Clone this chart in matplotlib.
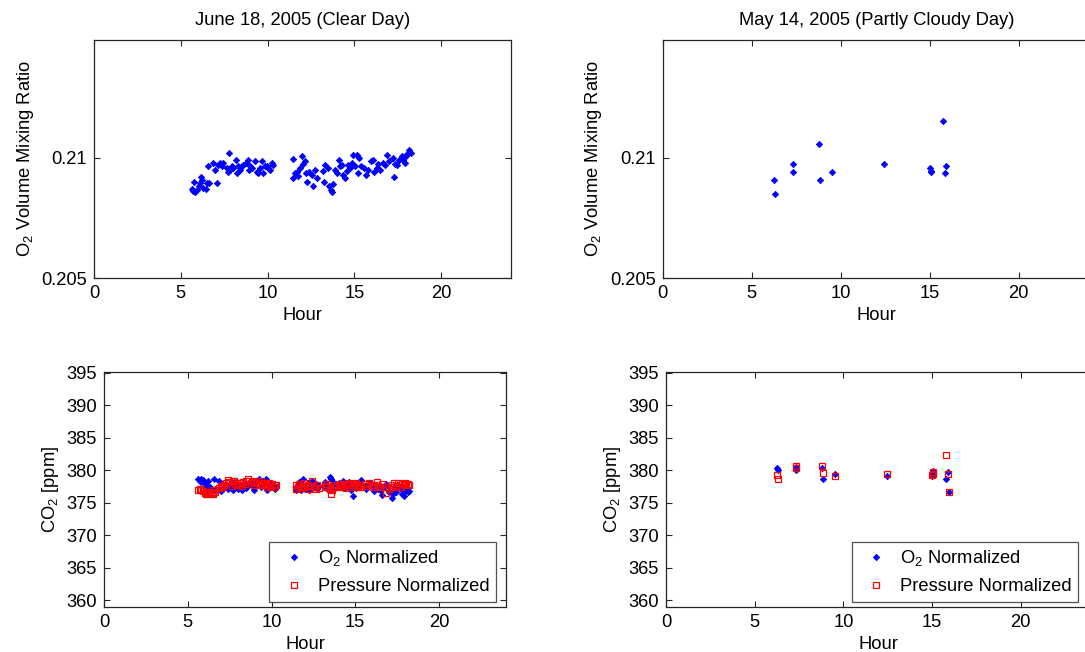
import matplotlib
matplotlib.use("Agg")
import matplotlib.pyplot as plt

plt.rcParams['font.family'] = ['Liberation Sans', 'DejaVu Sans']
plt.rcParams['font.size'] = 13.2

# ---------------- data ----------------
# June 18, 2005 (clear day): hours and O2 volume mixing ratio
clear_hours = [5.62, 5.72, 5.82, 5.78, 5.91, 6.05, 6.10, 6.20, 6.16, 6.30,
               6.43, 6.49, 6.58, 6.64, 6.87, 6.97, 7.06, 7.16, 7.26, 7.39,
               7.45, 7.64, 7.73, 7.79, 7.83, 7.97, 8.02, 8.16, 8.21, 8.31,
               8.41, 8.50, 8.60, 8.75, 8.89, 8.94, 8.98, 9.08, 9.27, 9.37,
               9.46, 9.56, 9.65, 9.75, 9.85, 9.94, 10.04, 10.13, 10.23, 10.29,
               11.44, 11.48, 11.57, 11.67, 11.77, 11.86, 11.96, 12.02, 12.15, 12.21,
               12.28, 12.40, 12.53, 12.63, 12.73, 12.82, 13.17, 13.30, 13.24, 13.49,
               13.55, 13.63, 13.69, 13.74, 13.88, 14.01, 14.13, 14.17, 14.26, 14.36,
               14.45, 14.55, 14.64, 14.74, 14.84, 14.89, 15.03, 15.12, 15.18, 15.28,
               15.36, 15.57, 15.66, 15.80, 15.93, 16.05, 16.12, 16.28, 16.37, 16.47,
               16.62, 16.76, 16.85, 17.01, 17.20, 17.27, 17.33, 17.43, 17.58, 17.72,
               17.81, 17.91, 17.97, 18.04, 18.16, 18.23]
clear_o2 = [0.20869, 0.20860, 0.20856, 0.20901, 0.20867, 0.20881, 0.20894, 0.20908, 0.20919, 0.20874,
            0.20869, 0.20894, 0.20967, 0.20894, 0.20978, 0.20950, 0.20897, 0.20971, 0.20978, 0.20967,
            0.20978, 0.20957, 0.20939, 0.21022, 0.20950, 0.20964, 0.20957, 0.20992, 0.20936, 0.20964,
            0.20950, 0.20964, 0.20971, 0.20978, 0.20992, 0.20950, 0.20967, 0.20957, 0.20985, 0.20943,
            0.20936, 0.20957, 0.20985, 0.20936, 0.20964, 0.20967, 0.20957, 0.20950, 0.20978, 0.20971,
            0.20915, 0.20994, 0.20936, 0.20943, 0.20925, 0.20957, 0.21008, 0.20975, 0.20985, 0.20936,
            0.20901, 0.20943, 0.20929, 0.20883, 0.20950, 0.20915, 0.20947, 0.20971, 0.20901, 0.20957,
            0.20881, 0.20867, 0.20856, 0.20892, 0.20950, 0.20936, 0.20992, 0.20964, 0.20971, 0.20929,
            0.20915, 0.20947, 0.20971, 0.20957, 0.20978, 0.21011, 0.20967, 0.21013, 0.20936, 0.20999,
            0.20964, 0.20957, 0.20929, 0.20950, 0.20988, 0.20992, 0.20943, 0.20957, 0.20975, 0.20950,
            0.20978, 0.20971, 0.21013, 0.20985, 0.20999, 0.20922, 0.20975, 0.20968, 0.20992, 0.21006,
            0.20992, 0.20978, 0.21006, 0.21017, 0.21033, 0.21019]
clear_co2_o2norm = [378.6, 378.4, 378.7, 378.2, 378.5, 378.0, 377.8, 378.3, 377.6, 377.4,
                    377.0, 376.9, 378.7, 377.2, 378.3, 376.8, 377.3, 377.6, 377.9, 377.1,
                    377.5, 377.8, 377.0, 378.2, 377.4, 377.9, 377.1, 377.6, 376.9, 377.7,
                    378.0, 377.3, 377.8, 378.2, 377.5, 377.0, 377.9, 378.3, 378.6, 377.4,
                    377.7, 378.1, 378.7, 376.9, 377.6, 378.0, 377.4, 377.8, 377.2, 377.5,
                    376.9, 377.4, 377.8, 378.2, 377.0, 378.6, 377.5, 377.2, 378.1, 377.0,
                    377.7, 378.3, 377.4, 377.9, 377.1, 377.6, 378.2, 377.8, 377.3, 378.9,
                    378.6, 378.3, 377.7, 377.2, 377.9, 378.1, 377.5, 377.8, 378.4, 377.3,
                    377.9, 377.6, 378.2, 377.0, 376.1, 377.7, 377.3, 377.9, 377.5, 378.0,
                    378.5, 377.6, 377.2, 377.9, 378.1, 377.4, 376.8, 377.6, 377.2, 376.9,
                    376.2, 377.5, 377.9, 376.7, 375.8, 376.4, 377.3, 376.6, 377.8, 377.1,
                    376.4, 376.0, 376.9, 377.2, 376.7, 376.8]
clear_co2_pnorm = [377.0, 377.2, 376.9, 377.1, 376.8, 376.5, 376.3, 376.6, 376.4, 376.7,
                   376.5, 376.4, 377.0, 376.6, 377.3, 377.6, 377.5, 377.8, 378.0, 378.5,
                   378.2, 377.6, 378.3, 378.4, 377.9, 378.1, 377.7, 378.0, 377.6, 378.2,
                   377.9, 378.3, 378.7, 378.0, 378.4, 377.8, 378.2, 378.0, 377.7, 378.3,
                   377.9, 378.1, 377.8, 377.5, 378.0, 377.6, 377.9, 377.5, 377.7, 377.8,
                   377.1, 377.8, 377.5, 377.9, 377.3, 377.6, 378.0, 377.4, 377.8, 377.2,
                   377.6, 378.3, 377.5, 377.1, 377.8, 377.3, 377.6, 377.9, 377.4, 377.2,
                   376.3, 377.0, 377.5, 377.8, 377.4, 377.7, 377.9, 377.5, 377.6, 377.9,
                   377.3, 377.7, 378.0, 377.8, 377.5, 377.9, 378.1, 377.6, 377.4, 377.8,
                   377.5, 377.9, 377.6, 378.0, 377.7, 377.5, 377.8, 378.2, 377.6, 377.4,
                   377.9, 377.5, 376.5, 377.2, 377.7, 377.4, 378.0, 377.6, 378.1, 377.5,
                   377.9, 377.7, 378.0, 377.8, 377.9, 377.8]

# May 14, 2005 (partly cloudy day)
cloudy_hours = [6.27, 6.33, 7.34, 7.34, 8.80, 8.86, 9.51, 12.45, 15.00, 15.06,
                15.07, 15.77, 15.94, 15.88]
cloudy_o2 = [0.20908, 0.20851, 0.20976, 0.20939, 0.21057, 0.20908, 0.20943, 0.20976,
             0.20957, 0.20947, 0.20942, 0.21153, 0.20964, 0.20935]
cloudy_co2_o2norm = [380.3, 380.1, 380.5, 380.1, 380.4, 378.7, 379.4, 379.2,
                     379.1, 379.9, 379.5, 378.7, 376.6, 379.8]
cloudy_co2_pnorm = [379.3, 378.6, 380.6, 380.3, 380.6, 379.6, 379.2, 379.5,
                    379.3, 379.7, 379.4, 382.4, 376.6, 379.4]

titles = ["June 18, 2005 (Clear Day)", "May 14, 2005 (Partly Cloudy Day)"]
xticks = [0, 5, 10, 15, 20]
o2_ticks = [0.205, 0.21]
o2_ticklabels = ["0.205", "0.21"]
co2_ticks = [360, 365, 370, 375, 380, 385, 390, 395]
legend_labels = [r"O$_\mathregular{2}$ Normalized", "Pressure Normalized"]

# ---------------- figure ----------------
fig = plt.figure(figsize=(10.85, 6.52), dpi=100)
W, H = 1085.0, 652.0

def ax_px(left, right, top, bottom):
    return fig.add_axes([left / W, 1 - bottom / H, (right - left) / W, (bottom - top) / H])

ax_tl = ax_px(94, 510.7, 40, 278)
ax_tr = ax_px(662.7, 1090, 40, 278)
ax_bl = ax_px(104, 506, 372.3, 606.7)
ax_br = ax_px(666, 1091.6, 372.3, 606.7)

spine_col = '#262626'

def style(ax, right_ticks):
    for s in ax.spines.values():
        s.set_color(spine_col)
        s.set_linewidth(0.9)
    ax.tick_params(direction='in', length=4, width=0.8, color=spine_col,
                   top=True, right=right_ticks, labelsize=13.2, pad=5)
    ax.set_xlim(0, 24)
    ax.set_xticks(xticks)
    ax.set_xlabel("Hour", labelpad=4)

blue_kw = dict(linestyle='none', marker='D', markersize=3.2, color='#0000ff',
               markeredgecolor='#0000ff', markeredgewidth=0.6)
red_kw = dict(linestyle='none', marker='s', markersize=4.8, markerfacecolor='none',
              markeredgecolor='#ff0000', markeredgewidth=0.9)

for ax, hours, o2, title, rt in [(ax_tl, clear_hours, clear_o2, titles[0], True),
                                 (ax_tr, cloudy_hours, cloudy_o2, titles[1], False)]:
    ax.plot(hours, o2, **blue_kw)
    style(ax, rt)
    ax.set_ylim(0.205, 0.2149)
    ax.set_yticks(o2_ticks)
    ax.set_yticklabels(o2_ticklabels)
    ax.set_ylabel(r"O$_\mathregular{2}$ Volume Mixing Ratio", labelpad=4)
    ax.set_title(title, fontsize=13.2, pad=11)

for ax, hours, b, r, anc, rt in [(ax_bl, clear_hours, clear_co2_o2norm, clear_co2_pnorm, 0.975, True),
                                 (ax_br, cloudy_hours, cloudy_co2_o2norm, cloudy_co2_pnorm, 0.9688, False)]:
    ax.plot(hours, b, label=legend_labels[0], **blue_kw)
    ax.plot(hours, r, label=legend_labels[1], **red_kw)
    style(ax, rt)
    ax.set_ylim(359, 395.1)
    ax.set_yticks(co2_ticks)
    ax.set_ylabel(r"CO$_\mathregular{2}$ [ppm]", labelpad=4)
    leg = ax.legend(loc='lower right', bbox_to_anchor=(anc, 0.021), borderaxespad=0,
                    fontsize=13.2, numpoints=1, handlelength=2.0, handletextpad=0.3,
                    borderpad=0.35, labelspacing=0.55, fancybox=False, frameon=True)
    leg.get_frame().set_edgecolor(spine_col)
    leg.get_frame().set_linewidth(0.9)

fig.savefig("out.png", dpi=100)
